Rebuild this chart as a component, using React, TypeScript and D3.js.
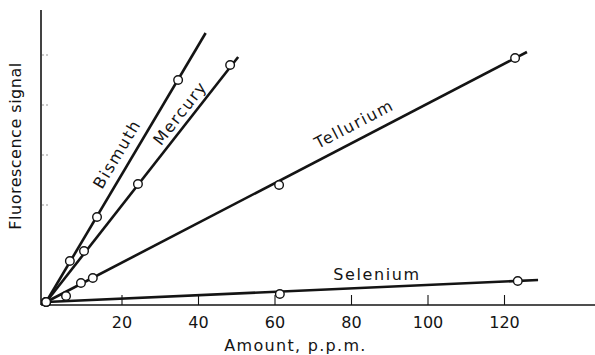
import React, { useEffect, useRef } from "react";
import * as d3 from "d3";

// Calibration curves: fluorescence signal (arbitrary units) vs amount (p.p.m.)
const seriesNames = ["Bismuth", "Mercury", "Tellurium", "Selenium"];

const bismuthAmount = [0.3, 6.5, 13.6, 34.8];
const bismuthSignal = [0.06, 0.88, 1.76, 4.5];

const mercuryAmount = [0.3, 10.2, 24.3, 48.4];
const mercurySignal = [0.06, 1.08, 2.42, 4.8];

const telluriumAmount = [0.3, 5.5, 9.4, 12.5, 61.2, 122.9];
const telluriumSignal = [0.06, 0.18, 0.44, 0.54, 2.4, 4.94];

const seleniumAmount = [0.3, 61.4, 123.6];
const seleniumSignal = [0.06, 0.22, 0.48];

// End of each fitted straight line (amount, signal); lines start at the first point
const fitEndAmount = [42, 50.5, 126, 128.9];
const fitEndSignal = [5.44, 4.96, 5.06, 0.5];

// Curve label anchors in data units
const labelAmount = [18.8, 35.3, 80.8, 86.8];
const labelSignal = [3.02, 3.84, 3.62, 0.62];

const xTickValues = [20, 40, 60, 80, 100, 120];
const yTickValues = [2, 3, 4, 5];

const WIDTH = 595;
const HEIGHT = 355;
const INK = "#141414";
const FONT = "'DejaVu Sans', sans-serif";

export default function App() {
  const axisRef = useRef<SVGGElement>(null);

  const x = d3.scaleLinear().domain([0, 120]).range([45, 504]);
  const y = d3.scaleLinear().domain([0, 5]).range([305, 55]);

  const axisX = 41;
  const axisY = 305;

  useEffect(() => {
    if (!axisRef.current) return;
    const g = d3.select(axisRef.current);
    g.selectAll("*").remove();
    g.call(
      d3
        .axisBottom(x)
        .tickValues(xTickValues)
        .tickSizeInner(-10)
        .tickSizeOuter(0)
        .tickPadding(12)
        .tickFormat(d3.format("d"))
    );
    g.select(".domain").remove();
    g.selectAll(".tick line").attr("stroke", INK).attr("stroke-width", 1.1);
    g.selectAll(".tick text")
      .attr("font-family", FONT)
      .attr("font-size", 16)
      .attr("fill", INK);
  }, []);

  const amounts = [bismuthAmount, mercuryAmount, telluriumAmount, seleniumAmount];
  const signals = [bismuthSignal, mercurySignal, telluriumSignal, seleniumSignal];

  const series = seriesNames.map((name, i) => {
    const pts = amounts[i].map((a, j) => [a, signals[i][j]] as [number, number]);
    const fit: [number, number][] = [pts[0], [fitEndAmount[i], fitEndSignal[i]]];
    const dx = x(fit[1][0]) - x(fit[0][0]);
    const dy = y(fit[1][1]) - y(fit[0][1]);
    const angle = (Math.atan2(dy, dx) * 180) / Math.PI;
    return { name, pts, fit, angle, lx: x(labelAmount[i]), ly: y(labelSignal[i]) };
  });

  const line = d3
    .line<[number, number]>()
    .x((d) => x(d[0]))
    .y((d) => y(d[1]));

  return (
    <svg
      width={WIDTH}
      height={HEIGHT}
      style={{ position: "absolute", left: 0, top: 0, background: "#fff" }}
    >
      <rect width={WIDTH} height={HEIGHT} fill="#fff" />

      {/* axes */}
      <line x1={axisX} x2={axisX} y1={10} y2={axisY} stroke={INK} strokeWidth={1.6} />
      <line x1={axisX} x2={WIDTH} y1={axisY} y2={axisY} stroke={INK} strokeWidth={1.6} />
      <g ref={axisRef} transform={`translate(0,${axisY})`} />

      {yTickValues.map((t) => (
        <line
          key={`yt${t}`}
          x1={axisX + 1}
          x2={axisX + 9}
          y1={y(t)}
          y2={y(t)}
          stroke="#999"
          strokeWidth={1}
          strokeDasharray="2,2"
        />
      ))}

      <text
        x={295.5}
        y={351}
        textAnchor="middle"
        fontFamily={FONT}
        fontSize={16}
        letterSpacing={1.3}
        fill={INK}
      >
        Amount, p.p.m.
      </text>
      <text
        transform="translate(21,146) rotate(-90)"
        textAnchor="middle"
        fontFamily={FONT}
        fontSize={16}
        letterSpacing={0.5}
        fill={INK}
      >
        Fluorescence signal
      </text>

      {/* fitted lines */}
      {series.map((s) => (
        <path key={`l${s.name}`} d={line(s.fit) || ""} fill="none" stroke={INK} strokeWidth={2.6} />
      ))}

      {/* measured points */}
      {series.map((s) =>
        s.pts.map((p, j) => (
          <circle
            key={`p${s.name}${j}`}
            cx={x(p[0])}
            cy={y(p[1])}
            r={4.3}
            fill="#fff"
            stroke={INK}
            strokeWidth={1.4}
          />
        ))
      )}

      {/* curve labels */}
      {series.map((s) => (
        <text
          key={`t${s.name}`}
          transform={`translate(${s.lx},${s.ly}) rotate(${s.name === "Selenium" ? 0 : s.angle})`}
          textAnchor="middle"
          dy="0.35em"
          fontFamily={FONT}
          fontSize={16}
          letterSpacing={1.6}
          fill={INK}
        >
          {s.name}
        </text>
      ))}
    </svg>
  );
}
